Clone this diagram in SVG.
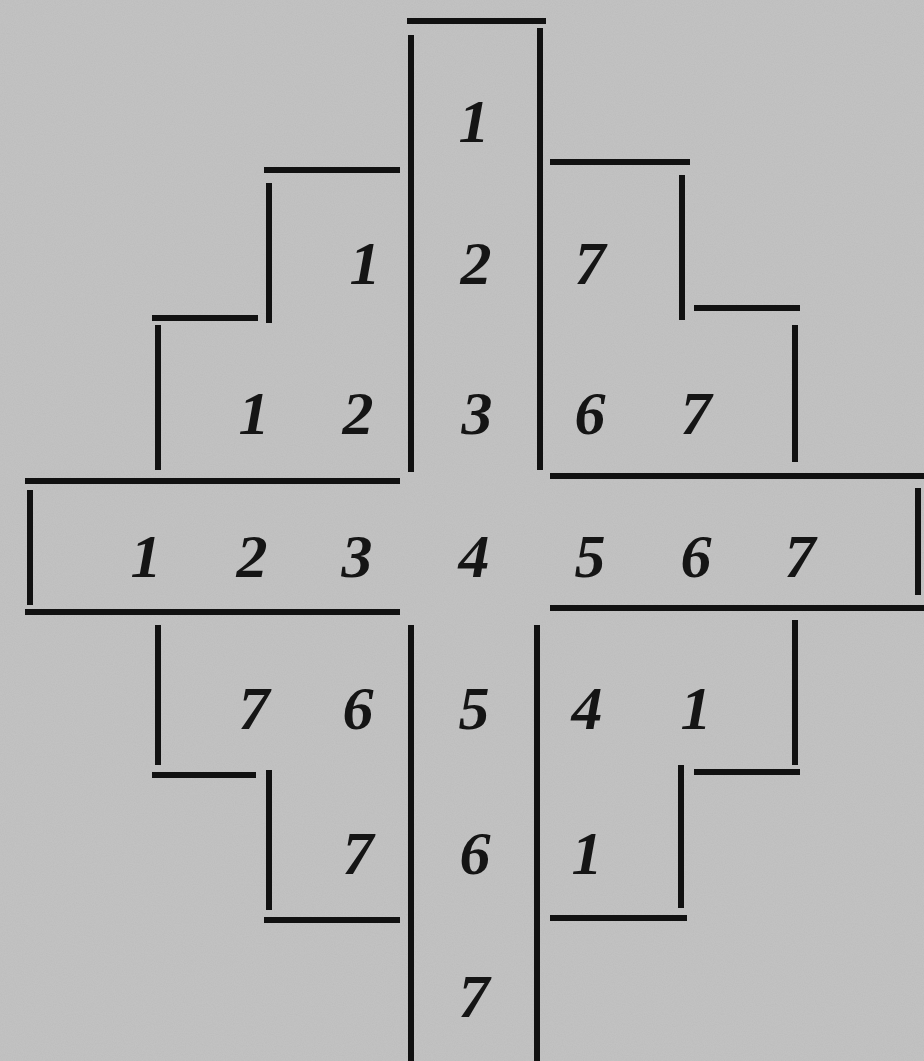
<svg xmlns="http://www.w3.org/2000/svg" width="924" height="1061" viewBox="0 0 924 1061">
<style>
.ln{stroke:#111;stroke-width:6;fill:none;stroke-linecap:butt}
.d{font-family:"Liberation Serif","DejaVu Serif",serif;font-style:italic;font-weight:bold;font-size:62px;fill:#151515;text-anchor:middle}
</style>
<defs>
<filter id="grain" x="0" y="0" width="100%" height="100%">
<feTurbulence type="fractalNoise" baseFrequency="0.9" numOctaves="2" seed="3"/>
<feColorMatrix type="matrix" values="0 0 0 0 0.45  0 0 0 0 0.45  0 0 0 0 0.45  0 0 0 -1.6 1.1"/>
</filter>
</defs>
<rect width="924" height="1061" fill="#c2c2c2"/>
<rect width="924" height="1061" filter="url(#grain)" opacity="0.35"/>
<g id="lines">
<path class="ln" d="M407 21H546"/>
<path class="ln" d="M411 35V472M540 28V470"/>
<path class="ln" d="M411 625V1061M537 625V1061"/>
<path class="ln" d="M264 170H400M269 183V323M152 318H258M158 325V470"/>
<path class="ln" d="M25 481H400M550 476H924M25 612H400M550 608H924"/>
<path class="ln" d="M30 490V605M918 488V595"/>
<path class="ln" d="M550 162H690M682 175V320M694 308H800M795 325V462"/>
<path class="ln" d="M158 625V765M152 775H256M269 770V910M264 920H400"/>
<path class="ln" d="M795 620V765M694 772H800M681 765V908M550 918H687"/>
</g>
<g id="numbers">
<text class="d" x="474" y="142">1</text>
<text class="d" x="365" y="284">1</text><text class="d" x="476" y="284">2</text><text class="d" x="590" y="284">7</text>
<text class="d" x="254" y="434">1</text><text class="d" x="358" y="434">2</text><text class="d" x="477" y="434">3</text><text class="d" x="590" y="434">6</text><text class="d" x="696" y="434">7</text>
<text class="d" x="146" y="577">1</text><text class="d" x="252" y="577">2</text><text class="d" x="357" y="577">3</text><text class="d" x="474" y="577">4</text><text class="d" x="590" y="577">5</text><text class="d" x="696" y="577">6</text><text class="d" x="800" y="577">7</text>
<text class="d" x="254" y="729">7</text><text class="d" x="358" y="729">6</text><text class="d" x="474" y="729">5</text><text class="d" x="587" y="729">4</text><text class="d" x="696" y="729">1</text>
<text class="d" x="358" y="874">7</text><text class="d" x="475" y="874">6</text><text class="d" x="587" y="874">1</text>
<text class="d" x="474" y="1017">7</text>
</g>
</svg>
